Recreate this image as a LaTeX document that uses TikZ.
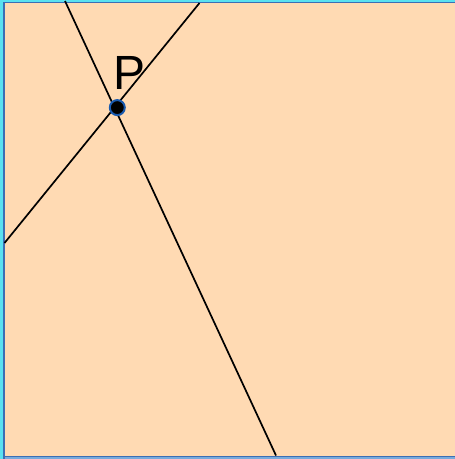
\documentclass[tikz,border=0pt]{standalone}
\usepackage{fontspec}
\setmainfont{Liberation Sans}
\definecolor{peach}{RGB}{255,218,179}
\definecolor{cyanedge}{RGB}{90,225,240}
\definecolor{blueedge}{RGB}{60,110,180}
\definecolor{lightblueedge}{RGB}{120,170,220}
\definecolor{ptblue}{RGB}{25,90,175}
\tikzset{
  geoline/.style={black, line width=1.7pt},
  ptdot/.style={circle, fill=black, draw=ptblue, line width=2pt, minimum size=15pt, inner sep=0pt},
  ptlabel/.style={font=\fontsize{48}{48}\selectfont, inner sep=0pt}
}
\begin{document}
\begin{tikzpicture}[x=1pt,y=-1pt]
\useasboundingbox (0,0) rectangle (455,459);
% frame
\fill[cyanedge] (0,0) rectangle (455,459);
\fill[lightblueedge] (3,456) rectangle (455,459);
\fill[peach] (4.5,3) rectangle (455,456);
\draw[blueedge, line width=1.5pt] (4,459) -- (4,2.5) -- (455,2.5);
\draw[blueedge, line width=1.5pt] (4,456.3) -- (455,456.3);
% lines
\coordinate (a1) at (65,1);
\coordinate (a2) at (276,455.5);
\coordinate (b1) at (199.5,3);
\coordinate (b2) at (4.5,243);
\draw[geoline] (a1) -- (a2);
\draw[geoline] (b1) -- (b2);
% point
\node[ptdot] (P) at (117.3,107.6) {};
\node[ptlabel] (Plabel) at (130,72.5) {P};
\end{tikzpicture}
\end{document}
